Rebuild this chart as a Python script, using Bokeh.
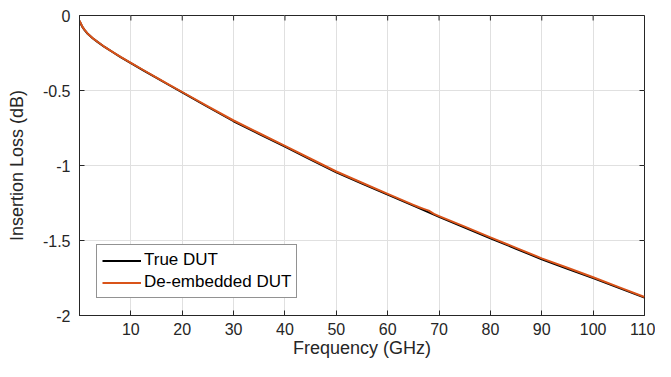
import math
from bokeh.plotting import figure
from bokeh.models import Range1d, FixedTicker, Legend, LegendItem, ColumnDataSource
from bokeh.embed import file_html
from bokeh.resources import INLINE

# ---- data ----
freq_ghz = [0.01, 0.3, 0.6, 1.0, 1.6, 2.5, 3.5, 4.8, 6.5, 8.0, 10, 12.5, 15, 17.5, 20,
            25, 30, 35, 40, 45, 50, 55, 60, 65, 66, 67, 68, 69, 70,
            75, 80, 85, 90, 95, 100, 105, 110]
true_dut_db = [-0.036, -0.058, -0.078, -0.097, -0.122, -0.150, -0.176, -0.208, -0.245, -0.277,
               -0.317, -0.367, -0.416, -0.465, -0.513,
               -0.610, -0.705, -0.790, -0.874, -0.960, -1.045, -1.120, -1.194,
               -1.268, -1.283, -1.298, -1.313, -1.328, -1.343,
               -1.414, -1.485, -1.555, -1.625, -1.688, -1.751, -1.816, -1.881]
deembedded_dut_db = [-0.034, -0.056, -0.077, -0.096, -0.121, -0.149, -0.175, -0.207, -0.244, -0.276,
                     -0.316, -0.365, -0.414, -0.462, -0.510,
                     -0.606, -0.700, -0.785, -0.869, -0.955, -1.040, -1.115, -1.189,
                     -1.263, -1.277, -1.289, -1.301, -1.322, -1.337,
                     -1.408, -1.479, -1.549, -1.619, -1.682, -1.745, -1.811, -1.877]

x_min, x_max = 0, 110
y_min, y_max = -2, 0
x_ticks = [10, 20, 30, 40, 50, 60, 70, 80, 90, 100, 110]
y_ticks = [-2, -1.5, -1, -0.5, 0]
y_tick_labels = ["-2", "-1.5", "-1", "-0.5", "0"]

series_names = ["True DUT", "De-embedded DUT"]
series_colors = ["#000000", "#D95319"]

FONT = "Liberation Sans"
INK = "#262626"

src = ColumnDataSource(dict(f=freq_ghz, t=true_dut_db, d=deembedded_dut_db))

p = figure(width=655, height=361, title=None,
           x_range=Range1d(x_min, x_max), y_range=Range1d(y_min, y_max),
           output_backend="svg", toolbar_location=None,
           min_border_left=79, min_border_right=11, min_border_top=15, min_border_bottom=46)
p.background_fill_color = "white"
p.border_fill_color = "white"
p.outline_line_color = INK
p.outline_line_width = 1

p.xgrid.ticker = FixedTicker(ticks=x_ticks)
p.ygrid.ticker = FixedTicker(ticks=y_ticks)
p.grid.grid_line_color = "#e0e0e0"
p.grid.grid_line_width = 1

r1 = p.line("f", "t", source=src, line_color=series_colors[0], line_width=2, line_join="round")
r2 = p.line("f", "d", source=src, line_color=series_colors[1], line_width=2, line_join="round")

def style_axis(ax):
    ax.major_tick_in = 5
    ax.major_tick_out = 0
    ax.minor_tick_in = 0
    ax.minor_tick_out = 0
    ax.axis_line_color = INK
    ax.major_tick_line_color = INK
    ax.major_label_text_color = INK
    ax.major_label_text_font = FONT
    ax.major_label_text_font_size = "16px"
    ax.axis_label_text_font = FONT
    ax.axis_label_text_font_size = "18px"
    ax.axis_label_text_font_style = "normal"
    ax.axis_label_text_color = INK

xa = p.xaxis[0]
ya = p.yaxis[0]
style_axis(xa)
style_axis(ya)
xa.ticker = FixedTicker(ticks=x_ticks)
ya.ticker = FixedTicker(ticks=y_ticks)
ya.major_label_overrides = {v: s for v, s in zip(y_ticks, y_tick_labels)}
xa.major_label_standoff = 7
ya.major_label_standoff = 9
xa.axis_label = "Frequency (GHz)"
ya.axis_label = "Insertion Loss (dB)"
xa.axis_label_standoff = 0
ya.axis_label_standoff = 13

# mirrored inward tick marks on the top and right edges of the box
p.ray(x=x_ticks, y=[y_max] * len(x_ticks), length=5, length_units="screen",
      angle=-math.pi / 2, line_color=INK, line_width=1)
p.ray(x=[x_max] * len(y_ticks), y=y_ticks, length=5, length_units="screen",
      angle=math.pi, line_color=INK, line_width=1)

legend = Legend(items=[LegendItem(label=series_names[0], renderers=[r1]),
                       LegendItem(label=series_names[1], renderers=[r2])],
                location=(17, 17))
legend.label_text_font = FONT
legend.label_text_font_size = "17px"
legend.label_text_color = "#000000"
legend.border_line_color = INK
legend.border_line_width = 1
legend.background_fill_color = "white"
legend.background_fill_alpha = 1
legend.padding = 5
legend.spacing = 2
legend.margin = 0
legend.glyph_height = 19
legend.glyph_width = 39
legend.label_height = 19
legend.label_standoff = 3
p.add_layout(legend)

open("out.html", "w").write(file_html(p, INLINE))
